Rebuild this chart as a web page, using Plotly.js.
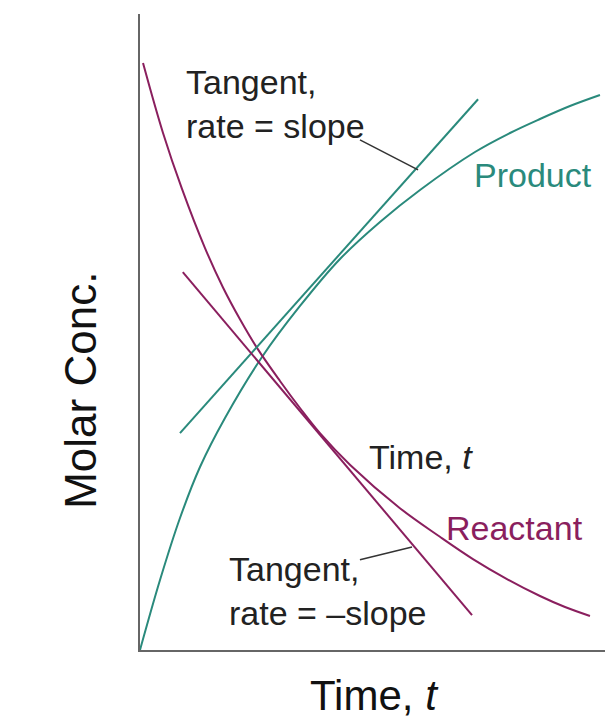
<!DOCTYPE html>
<html>
<head>
<meta charset="utf-8">
<script src="https://cdn.plot.ly/plotly-3.0.1.min.js"></script>
<style>html,body{margin:0;padding:0;background:#fff;}#chart{width:616px;height:721px;}</style>
</head>
<body>
<div id="chart"></div>
<script>
// Time axis (arbitrary units 0-100) and molar concentration (arbitrary units 0-100)
var productT   = [0, 4.30, 8.60, 12.90, 18.28, 26.24, 34.41, 43.01, 51.61, 60.22, 72.04, 79.57, 86.02, 92.47, 98.92];
var productC   = [0, 11.0, 20.75, 28.77, 36.48, 46.07, 54.09, 61.48, 67.30, 72.33, 78.30, 81.29, 83.49, 85.53, 87.26];
var reactantT  = [0.65, 4.95, 9.03, 13.98, 17.85, 21.5, 25.16, 30.1, 34.4, 38.7, 45.2, 55.9, 64.5, 71.6, 78.92, 86.02, 91.40, 96.77];
var reactantC  = [92.3, 81.3, 72.5, 63.2, 57.0, 52.0, 47.5, 42.3, 38.05, 34.1, 29.1, 22.3, 17.8, 14.3, 11.16, 8.49, 6.76, 5.35];
var prodTangentT = [8.6, 72.7];
var prodTangentC = [34.1, 86.6];
var reacTangentT = [9.2, 71.4];
var reacTangentC = [59.4, 5.5];
var leaderUpT = [47.3, 59.8];
var leaderUpC = [80.2, 75.5];
var leaderLowT = [47.3, 58.5];
var leaderLowC = [14.2, 16.2];

var teal = '#2a8a7c';
var purple = '#8a1f5e';
var ink = '#222222';

var traces = [
  {x: productT, y: productC, mode: 'lines', line: {color: teal, width: 2, shape: 'spline', smoothing: 1}, hoverinfo: 'skip'},
  {x: reactantT, y: reactantC, mode: 'lines', line: {color: purple, width: 2, shape: 'spline', smoothing: 1}, hoverinfo: 'skip'},
  {x: prodTangentT, y: prodTangentC, mode: 'lines', line: {color: teal, width: 2}, hoverinfo: 'skip'},
  {x: reacTangentT, y: reacTangentC, mode: 'lines', line: {color: purple, width: 2}, hoverinfo: 'skip'},
  {x: leaderUpT, y: leaderUpC, mode: 'lines', line: {color: '#333', width: 1.5}, hoverinfo: 'skip'},
  {x: leaderLowT, y: leaderLowC, mode: 'lines', line: {color: '#333', width: 1.5}, hoverinfo: 'skip'}
];

var F = 'Liberation Sans, Arial, Helvetica, sans-serif';
function ann(text, x, y, color, size) {
  return {text: text, x: x, y: y, xref: 'x', yref: 'y', showarrow: false,
          xanchor: 'left', yanchor: 'middle', align: 'left',
          font: {family: F, size: size, color: color}};
}

var layout = {
  width: 616, height: 721,
  margin: {l: 140, r: 11, t: 14, b: 71, pad: 0},
  paper_bgcolor: '#fff', plot_bgcolor: '#fff',
  showlegend: false,
  xaxis: {range: [0, 100], showline: true, linecolor: '#666', linewidth: 2,
          showgrid: false, zeroline: false, ticks: '', showticklabels: false, fixedrange: true},
  yaxis: {range: [0, 100], showline: true, linecolor: '#666', linewidth: 2,
          showgrid: false, zeroline: false, ticks: '', showticklabels: false, fixedrange: true},
  annotations: [
    ann('Tangent,<br>rate = slope', 9.5, 85.8, ink, 34),
    ann('Product', 71.4, 74.7, teal, 34),
    ann('Time, <i>t</i>', 48.8, 30.3, ink, 34),
    ann('Reactant', 65.4, 19.2, purple, 34),
    ann('Tangent,<br>rate = \u2013slope', 18.7, 9.3, ink, 34),
    {text: 'Time, <i>t</i>', xref: 'paper', yref: 'paper', x: 0.505, y: -0.071,
     xanchor: 'center', yanchor: 'middle', showarrow: false,
     font: {family: F, size: 42, color: '#111'}},
    {text: 'Molar Conc.', xref: 'paper', yref: 'paper', x: -0.127, y: 0.409,
     xanchor: 'center', yanchor: 'middle', showarrow: false, textangle: -90,
     font: {family: F, size: 44, color: '#111'}}
  ]
};

Plotly.newPlot('chart', traces, layout, {staticPlot: true, displayModeBar: false});
</script>
</body>
</html>
